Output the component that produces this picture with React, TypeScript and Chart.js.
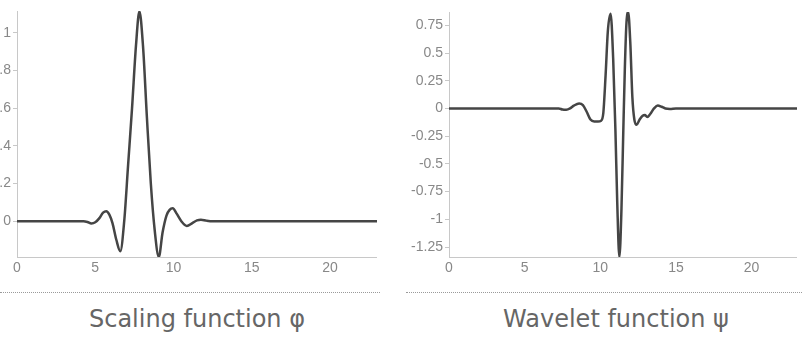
import React, { useEffect, useRef } from "react";
import { Chart, registerables } from "chart.js";

Chart.register(...registerables);

// Scaling function φ
const phiX = [0, 1, 2, 3, 4, 4.25, 4.5, 4.75, 5.0, 5.25, 5.5, 5.7, 5.9, 6.1, 6.35, 6.6, 6.85, 7.1, 7.35, 7.6, 7.82, 8.05, 8.3, 8.55, 8.8, 9.06, 9.3, 9.55, 9.75, 9.95, 10.2, 10.5, 10.85, 11.2, 11.5, 11.75, 12.1, 12.5, 13, 14, 15, 16, 17, 18, 19, 20, 21, 22, 23];
const phiY = [0, 0, 0, 0, 0, 0, -0.004, -0.012, -0.006, 0.015, 0.045, 0.053, 0.035, -0.01, -0.1, -0.16, 0.0, 0.3, 0.6, 0.93, 1.113, 0.93, 0.55, 0.2, -0.05, -0.19, -0.06, 0.03, 0.06, 0.068, 0.04, 0.0, -0.025, -0.01, 0.004, 0.008, 0.003, 0, 0, 0, 0, 0, 0, 0, 0, 0, 0, 0, 0];

// Wavelet function ψ
const psiX = [0, 1, 2, 3, 4, 5, 6, 7, 7.25, 7.5, 7.75, 8.0, 8.25, 8.6, 8.85, 9.1, 9.35, 9.6, 9.85, 10.05, 10.2, 10.35, 10.5, 10.68, 10.85, 11.0, 11.12, 11.26, 11.4, 11.52, 11.62, 11.72, 11.84, 11.98, 12.12, 12.25, 12.4, 12.6, 12.8, 12.95, 13.1, 13.3, 13.55, 13.8, 14.05, 14.3, 14.6, 15, 16, 17, 18, 19, 20, 21, 22, 23];
const psiY = [0, 0, 0, 0, 0, 0, 0, 0, 0, -0.01, -0.012, 0.0, 0.025, 0.045, 0.03, -0.03, -0.1, -0.117, -0.117, -0.11, -0.04, 0.3, 0.7, 0.855, 0.45, -0.2, -0.85, -1.34, -0.9, -0.2, 0.35, 0.75, 0.87, 0.6, 0.1, -0.1, -0.147, -0.1, -0.065, -0.06, -0.078, -0.05, 0.0, 0.027, 0.015, 0.0, -0.004, 0, 0, 0, 0, 0, 0, 0, 0, 0];

const xTickStep = 5;
const phiTickStep = 0.2;
const psiTickStep = 0.25;

const titles = ["Scaling function φ", "Wavelet function ψ"];

const fmt = (v: number | string) => String(Number(Number(v).toFixed(4)));

function makeConfig(xs: number[], ys: number[], yMin: number, yMax: number, step: number, yWidth: number, padTop: number): any {
  return {
    type: "line",
    data: {
      datasets: [
        {
          data: xs.map((x, i) => ({ x, y: ys[i] })),
          borderColor: "#454545",
          borderWidth: 2.5,
          pointRadius: 0,
          fill: false,
          cubicInterpolationMode: "monotone",
        },
      ],
    },
    options: {
      animation: false,
      responsive: false,
      layout: { padding: { top: padTop, right: 0, bottom: 0, left: 0 } },
      plugins: { legend: { display: false }, tooltip: { enabled: false } },
      scales: {
        x: {
          type: "linear",
          min: 0,
          max: 23,
          grid: { drawOnChartArea: false, drawTicks: false },
          border: { color: "#c8c8c8", width: 1 },
          ticks: {
            stepSize: xTickStep,
            includeBounds: false,
            padding: 3,
            color: "#888",
            font: { family: "'Liberation Sans', Arial, sans-serif", size: 14 },
            maxRotation: 0,
            callback: fmt,
          },
          afterFit: (s: any) => {
            s.height = 25;
          },
        },
        y: {
          type: "linear",
          min: yMin,
          max: yMax,
          grid: { drawOnChartArea: false, drawTicks: true, tickLength: 4, color: "#c8c8c8" },
          border: { color: "#c8c8c8", width: 1 },
          ticks: {
            stepSize: step,
            includeBounds: false,
            padding: 2,
            color: "#888",
            font: { family: "'Liberation Sans', Arial, sans-serif", size: 14 },
            callback: fmt,
          },
          afterFit: (s: any) => {
            s.width = yWidth;
          },
        },
      },
    },
  };
}

function ChartBox(props: { config: any; left: number; width: number; height: number }) {
  const ref = useRef<HTMLCanvasElement | null>(null);
  useEffect(() => {
    if (!ref.current) return;
    const c = new Chart(ref.current, props.config);
    return () => c.destroy();
  }, []);
  return (
    <canvas
      ref={ref}
      width={props.width}
      height={props.height}
      style={{ position: "absolute", left: props.left, top: 0, width: props.width, height: props.height }}
    />
  );
}

export default function App() {
  useEffect(() => {
    document.body.style.margin = "0";
  }, []);
  const titleStyle: React.CSSProperties = {
    position: "absolute",
    top: 305,
    height: 28,
    lineHeight: "28px",
    fontFamily: "'DejaVu Sans', sans-serif",
    fontSize: 24,
    color: "#666",
    textAlign: "center",
    whiteSpace: "nowrap",
  };
  return (
    <div style={{ position: "absolute", left: 0, top: 0, width: 802, height: 338, overflow: "hidden", background: "#fff" }}>
      <div style={{ position: "absolute", left: 0, top: 0, width: 400, height: 290, overflow: "hidden" }}>
        <ChartBox config={makeConfig(phiX, phiY, -0.19, 1.115, phiTickStep, 40, 11)} left={-23} width={400} height={282} />
      </div>
      <ChartBox config={makeConfig(psiX, psiY, -1.34, 0.87, psiTickStep, 49, 12)} left={400} width={397} height={282} />
      <div style={{ position: "absolute", left: 0, top: 292, width: 380, borderTop: "1px dotted #9a9a9a" }} />
      <div style={{ position: "absolute", left: 406, top: 292, width: 396, borderTop: "1px dotted #9a9a9a" }} />
      <div style={{ ...titleStyle, left: 0, width: 394 }}>{titles[0]}</div>
      <div style={{ ...titleStyle, left: 430, width: 372 }}>{titles[1]}</div>
    </div>
  );
}
